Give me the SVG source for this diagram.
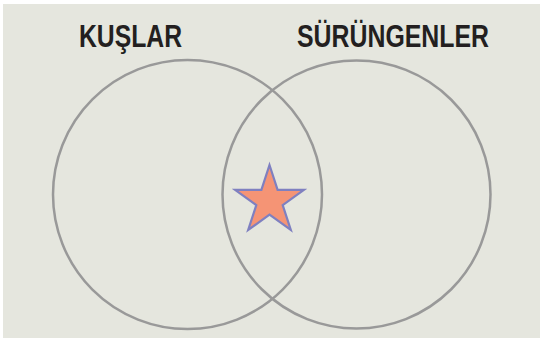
<svg xmlns="http://www.w3.org/2000/svg" width="540" height="342" viewBox="0 0 540 342">
<style>
.set{fill:none;stroke:#999999;stroke-width:2.5}
.lbl{font-family:"Liberation Sans",Arial,sans-serif;font-weight:bold;font-size:31px;fill:#231f20}
</style>
<rect x="0" y="0" width="540" height="342" fill="#ffffff"/>
<rect x="3" y="4" width="537" height="334" fill="#e5e6de"/>
<g id="kuslar">
<circle class="set" cx="187.5" cy="194.5" r="134.5"/>
<text class="lbl" x="79" y="47" textLength="103" lengthAdjust="spacingAndGlyphs">KUŞLAR</text>
</g>
<g id="surungenler">
<circle class="set" cx="356.5" cy="194.5" r="134"/>
<text class="lbl" x="297" y="47" textLength="192" lengthAdjust="spacingAndGlyphs">SÜRÜNGENLER</text>
</g>
<g id="star">
<polygon points="269.5,165 277.6,189.8 303.9,189.8 282.7,205.1 290.8,230 269.5,214.7 248.2,230 256.3,205.1 235.1,189.8 261.4,189.8" fill="#f59475" stroke="#7f80c0" stroke-width="2.2" stroke-linejoin="miter"/>
</g>
</svg>
